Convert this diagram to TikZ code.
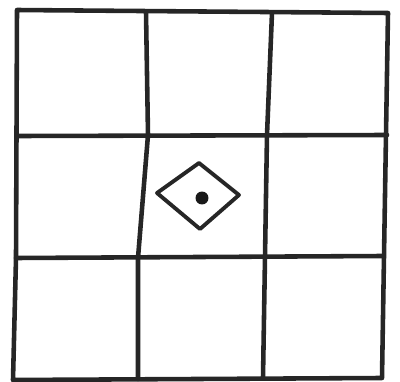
\documentclass[tikz,border=0pt]{standalone}
\usepackage{tikz}

\begin{document}
\begin{tikzpicture}[x=0.02cm,y=-0.02cm,
  pen/.style={line width=2.6pt,line cap=round,line join=round,draw=black!85},
  mark pen/.style={line width=2.2pt,line join=round,draw=black!85}
]
\useasboundingbox (0,0) rectangle (400,382);
% outer frame
\coordinate (tl) at (17,10);
\coordinate (tr) at (388,13);
\coordinate (br) at (382,378);
\coordinate (bl) at (13,380);
\draw[pen] (tl) -- (tr) -- (br) -- (bl) -- (16,258) -- cycle;
% grid lines
\draw[pen] (146,12) -- (148,135) -- (138,258) -- (138,379);
\draw[pen] (272,13) -- (267,135) -- (265,257) -- (263,378);
\draw[pen] (19,136) -- (387,135);
\draw[pen] (16,258) -- (383,256);
% centre mark
\coordinate (dl) at (157,193);
\coordinate (dt) at (199,163);
\coordinate (dr) at (239,195);
\coordinate (db) at (200,229);
\draw[mark pen] (dl) -- (dt) -- (dr) -- (db) -- cycle;
\fill[black!90] (202,198) circle (0.13cm);
\end{tikzpicture}
\end{document}
